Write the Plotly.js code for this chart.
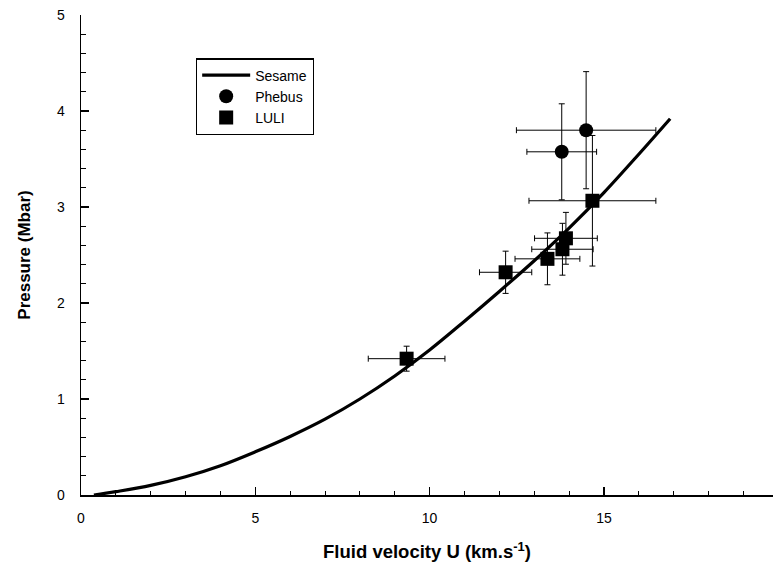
<!DOCTYPE html>
<html>
<head>
<meta charset="utf-8">
<script src="https://cdn.plot.ly/plotly-3.0.1.min.js"></script>
<style>html,body{margin:0;padding:0;background:#fff;}#chart{width:773px;height:570px;}</style>
</head>
<body>
<div id="chart"></div>
<script>
// Sesame curve
var sesameU = [0.37, 1, 2, 3, 4, 5, 6, 7, 8, 9, 10, 11, 12, 13, 14, 15, 16, 16.9];
var sesameP = [0.0, 0.035, 0.10, 0.19, 0.305, 0.45, 0.61, 0.79, 1.00, 1.24, 1.51, 1.81, 2.12, 2.44, 2.78, 3.15, 3.55, 3.92];

// Phebus data
var phebusU = [13.79, 14.49];
var phebusP = [3.575, 3.80];
var phebusUerr = [1.0, 2.0];
var phebusPerr = [0.5, 0.61];

// LULI data
var luliU = [9.34, 12.18, 13.38, 13.81, 13.91, 14.67];
var luliP = [1.42, 2.32, 2.46, 2.56, 2.674, 3.065];
var luliUerr = [1.1, 0.75, 0.93, 0.88, 0.9, 1.82];
var luliPerr = [0.13, 0.22, 0.27, 0.27, 0.27, 0.68];

var FONT = 'Liberation Sans, Arial, sans-serif';

var traces = [
  {
    x: sesameU, y: sesameP, name: 'Sesame', type: 'scatter', mode: 'lines',
    line: {color: '#000', width: 3.2, shape: 'spline', smoothing: 1}
  },
  {
    x: phebusU, y: phebusP, name: 'Phebus', type: 'scatter', mode: 'markers',
    marker: {symbol: 'circle', size: 14, color: '#000'},
    error_x: {type: 'data', array: phebusUerr, visible: true, color: '#000', thickness: 1, width: 3},
    error_y: {type: 'data', array: phebusPerr, visible: true, color: '#000', thickness: 1, width: 3}
  },
  {
    x: luliU, y: luliP, name: 'LULI', type: 'scatter', mode: 'markers',
    marker: {symbol: 'square', size: 14, color: '#000'},
    error_x: {type: 'data', array: luliUerr, visible: true, color: '#000', thickness: 1, width: 3},
    error_y: {type: 'data', array: luliPerr, visible: true, color: '#000', thickness: 1, width: 3}
  }
];

var layout = {
  width: 773, height: 570,
  margin: {l: 81, r: 0, t: 15, b: 75, pad: 0},
  paper_bgcolor: '#fff', plot_bgcolor: '#fff',
  font: {family: FONT, size: 14, color: '#000'},
  showlegend: true,
  legend: {
    x: 0.166, y: 0.91, xanchor: 'left', yanchor: 'top',
    bgcolor: '#fff', bordercolor: '#000', borderwidth: 1.3,
    font: {family: FONT, size: 14, color: '#000'},
    itemwidth: 48, tracegroupgap: 0
  },
  xaxis: {
    range: [0, 19.85], dtick: 5, tick0: 0,
    showgrid: false, zeroline: false,
    showline: true, linecolor: '#000', linewidth: 1.5,
    ticks: 'inside', ticklen: 8, tickwidth: 1.3, tickcolor: '#000',
    ticklabelstandoff: 10,
    minor: {dtick: 1, ticks: 'inside', ticklen: 4, tickwidth: 1, tickcolor: '#000'},
    tickfont: {family: FONT, size: 14, color: '#000'},
    title: {text: 'Fluid velocity U (km.s<sup>-1</sup>)', font: {family: FONT, size: 18.5, weight: 'bold', color: '#000'}, standoff: 20}
  },
  yaxis: {
    range: [0, 5], dtick: 1, tick0: 0,
    showgrid: false, zeroline: false,
    showline: true, linecolor: '#000', linewidth: 1.5,
    ticks: 'inside', ticklen: 8, tickwidth: 1.3, tickcolor: '#000',
    ticklabelstandoff: 12,
    minor: {dtick: 0.2, ticks: 'inside', ticklen: 5, tickwidth: 1, tickcolor: '#000'},
    tickfont: {family: FONT, size: 14, color: '#000'},
    title: {text: 'Pressure (Mbar)', font: {family: FONT, size: 17, weight: 'bold', color: '#000'}, standoff: 22}
  }
};

Plotly.newPlot('chart', traces, layout, {displayModeBar: false, staticPlot: true});
</script>
</body>
</html>
